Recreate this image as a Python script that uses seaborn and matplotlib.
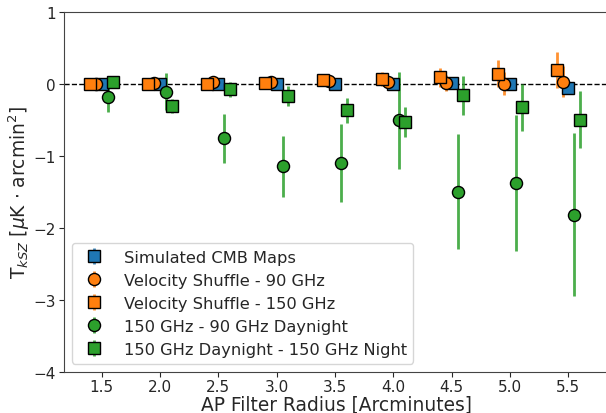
import numpy as np
import matplotlib
matplotlib.use("Agg")
import matplotlib.pyplot as plt
from matplotlib.colors import to_rgba
import seaborn as sns

# === Datos ===
radios = [1.5, 2.0, 2.5, 3.0, 3.5, 4.0, 4.5, 5.0, 5.5]

sim_cmb = [0.00, -0.01, -0.01, -0.01, 0.00, 0.00, 0.01, 0.00, -0.06]
sim_cmb_err = [0.02, 0.02, 0.02, 0.02, 0.02, 0.02, 0.02, 0.02, 0.03]

vs90 = [0.00, 0.01, 0.02, 0.02, 0.04, 0.03, 0.01, 0.00, 0.03]
vs90_err = [0.02, 0.02, 0.03, 0.04, 0.05, 0.06, 0.11, 0.16, 0.22]

vs150 = [0.00, 0.00, 0.00, 0.01, 0.05, 0.065, 0.09, 0.14, 0.19]
vs150_err = [0.02, 0.03, 0.04, 0.05, 0.07, 0.10, 0.13, 0.19, 0.25]

dn_90 = [-0.19, -0.11, -0.76, -1.15, -1.10, -0.51, -1.50, -1.38, -1.82]
dn_90_err = [0.20, 0.26, 0.34, 0.43, 0.54, 0.67, 0.80, 0.94, 1.13]

dn_night = [0.02, -0.31, -0.08, -0.17, -0.37, -0.53, -0.16, -0.33, -0.50]
dn_night_err = [0.05, 0.10, 0.11, 0.14, 0.17, 0.21, 0.27, 0.33, 0.40]

etiquetas = ["Simulated CMB Maps", "Velocity Shuffle - 90 GHz",
             "Velocity Shuffle - 150 GHz", "150 GHz - 90 GHz Daynight",
             "150 GHz Daynight - 150 GHz Night"]

sns.set_style("ticks")
plt.rcParams["font.family"] = ["DejaVu Sans"]
plt.rcParams["mathtext.fontset"] = "dejavusans"
pal = sns.color_palette("tab10")
azul, naranja, verde = pal[0], pal[1], pal[2]

fig = plt.figure(figsize=(6.06, 4.14), dpi=100)
ax = fig.add_axes([0.1048, 0.0998, 0.90, 0.8696])

ax.axhline(0, color="black", ls="--", lw=1, zorder=1)

series = [
    (sim_cmb, sim_cmb_err, 0.00, "s", azul),
    (vs90, vs90_err, -0.05, "o", naranja),
    (vs150, vs150_err, -0.10, "s", naranja),
    (dn_90, dn_90_err, 0.05, "o", verde),
    (dn_night, dn_night_err, 0.10, "s", verde),
]
x = np.array(radios)
for (y, e, dx, m, c), lab in zip(series, etiquetas):
    ax.errorbar(x + dx, y, yerr=e, fmt=m, color=c, ecolor=to_rgba(c, 0.85),
                elinewidth=2, markersize=8.7, mec="black", mew=1,
                label=lab, zorder=3)

ax.set_xlim(1.173, 5.847)
ax.set_ylim(-4, 1)
ax.set_xticks(radios)
ax.set_yticks([1, 0, -1, -2, -3, -4])
for s in ax.spines.values():
    s.set_color("#444444")
ax.tick_params(labelsize=11, length=3.5, pad=2)
ax.set_xlabel("AP Filter Radius [Arcminutes]", fontsize=13.4, labelpad=0)
ax.set_ylabel(r"T$_{kSZ}$ [$\mu$K $\cdot$ arcmin$^2$]", fontsize=13.4, labelpad=1)
ax.legend(loc="lower left", fontsize=11.7, borderaxespad=0.5)

fig.savefig("out.png", dpi=100)
